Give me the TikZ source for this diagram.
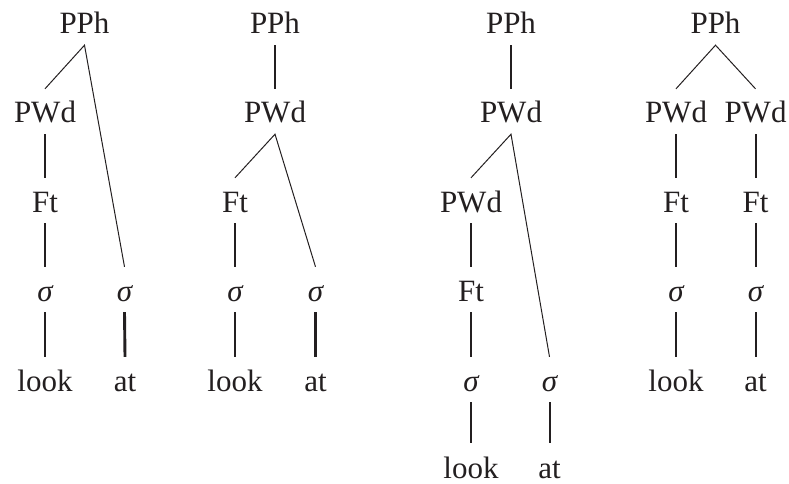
\documentclass[tikz,border=0pt]{standalone}
\usepackage{fontspec}
\setmainfont{Liberation Serif}
\newfontfamily\timesfont{Liberation Serif}
\definecolor{ink}{HTML}{231F20}
\begin{document}
\begin{tikzpicture}[x=1pt,y=-1pt,
  lbl/.style={anchor=base,inner sep=0pt,text height=34pt,text depth=11pt,
    font=\timesfont\fontsize{31}{36}\selectfont,text=ink},
  leaf/.style={lbl,text depth=3pt},
  thick edge/.style={draw=ink,line width=2.9pt},
  mid edge/.style={draw=ink,line width=2pt},
  thin edge/.style={draw=ink,line width=1pt}]
\useasboundingbox (0,0) rectangle (789,484);
% baselines
\def\ra{34}\def\rb{123}\def\rc{212}\def\rd{301}\def\re{391}\def\rf{478}
% Tree 1
\node[lbl] (a1) at (84.5,\ra) {PPh};
\node[lbl] (a2) at (45,\rb) {PWd};
\node[lbl] (a3) at (45,\rc) {Ft};
\node[lbl] (a4) at (45,\rd) {\itshape σ};
\node[lbl] (a5) at (124.5,\rd) {\itshape σ};
\node[leaf] (a6) at (45,\re) {look};
\node[leaf] (a7) at (125,\re) {at};
\draw[thin edge] (a2.north) -- (a1.south) -- (a5.north);
\draw[thick edge] (a2.south) -- (a3.north);
\draw[thick edge] (a3.south) -- (a4.north);
\draw[thick edge] (a4.south) -- (a6.north);
\draw[thick edge] (a5.south) -- (a7.north);
% Tree 2
\node[lbl] (b1) at (275,\ra) {PPh};
\node[lbl] (b2) at (275,\rb) {PWd};
\node[lbl] (b3) at (235,\rc) {Ft};
\node[lbl] (b4) at (235,\rd) {\itshape σ};
\node[lbl] (b5) at (315.5,\rd) {\itshape σ};
\node[leaf] (b6) at (235,\re) {look};
\node[leaf] (b7) at (315.5,\re) {at};
\draw[thick edge] (b1.south) -- (b2.north);
\draw[thin edge] (b3.north) -- (b2.south) -- (b5.north);
\draw[thick edge] (b3.south) -- (b4.north);
\draw[thick edge] (b4.south) -- (b6.north);
\draw[thick edge] (b5.south) -- (b7.north);
% Tree 3
\node[lbl] (c1) at (511,\ra) {PPh};
\node[lbl] (c2) at (511,\rb) {PWd};
\node[lbl] (c3) at (471,\rc) {PWd};
\node[lbl] (c4) at (471,\rd) {Ft};
\node[lbl] (c5) at (471,\re) {\itshape σ};
\node[lbl] (c6) at (549.5,\re) {\itshape σ};
\node[leaf,text depth=2pt] (c7) at (471,\rf) {look};
\node[leaf,text depth=2pt] (c8) at (549.5,\rf) {at};
\draw[mid edge] (c1.south) -- (c2.north);
\draw[thin edge] (c3.north) -- (c2.south) -- (c6.north);
\draw[mid edge] (c3.south) -- (c4.north);
\draw[mid edge] (c4.south) -- (c5.north);
\draw[mid edge] (c5.south) -- ([yshift=1pt]c7.north);
\draw[mid edge] (c6.south) -- ([yshift=1pt]c8.north);
% Tree 4
\node[lbl] (d1) at (715.5,\ra) {PPh};
\node[lbl] (d2) at (676,\rb) {PWd};
\node[lbl] (d3) at (755.5,\rb) {PWd};
\node[lbl] (d4) at (676,\rc) {Ft};
\node[lbl] (d5) at (755.5,\rc) {Ft};
\node[lbl] (d6) at (676,\rd) {\itshape σ};
\node[lbl] (d7) at (755.5,\rd) {\itshape σ};
\node[leaf] (d8) at (676,\re) {look};
\node[leaf] (d9) at (755.5,\re) {at};
\draw[thin edge] (d2.north) -- (d1.south) -- (d3.north);
\draw[mid edge] (d2.south) -- (d4.north);
\draw[mid edge] (d3.south) -- (d5.north);
\draw[mid edge] (d4.south) -- (d6.north);
\draw[mid edge] (d5.south) -- (d7.north);
\draw[mid edge] (d6.south) -- (d8.north);
\draw[mid edge] (d7.south) -- (d9.north);
\end{tikzpicture}
\end{document}
